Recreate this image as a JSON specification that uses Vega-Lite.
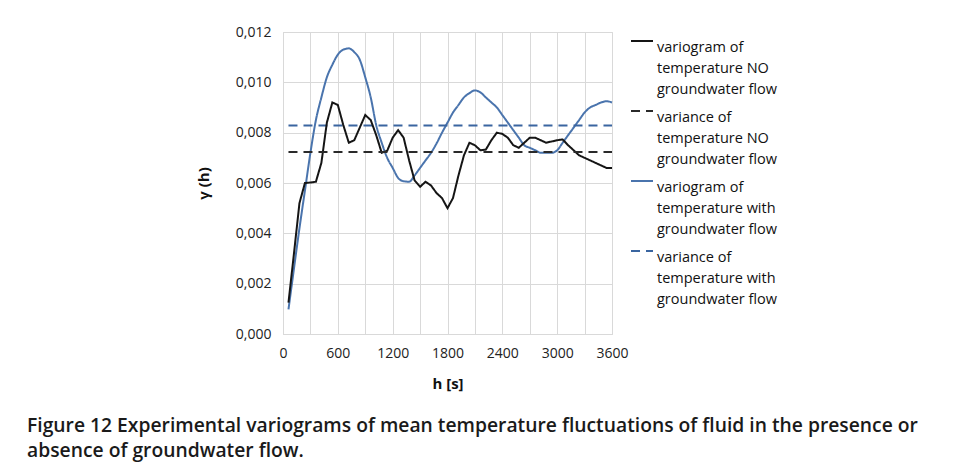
{
  "$schema": "https://vega.github.io/schema/vega-lite/v6.json",
  "width": 329,
  "height": 302,
  "autosize": {"type": "none"},
  "padding": {"left": 283, "top": 32, "right": 345, "bottom": 131},
  "background": "white",
  "title": {
    "text": ["Figure 12 Experimental variograms of mean temperature fluctuations of fluid in the presence or", "absence of groundwater flow."],
    "orient": "bottom", "anchor": "start", "frame": "group", "dx": -256, "offset": 26,
    "font": "Open Sans", "fontSize": 19.3, "fontWeight": 600, "lineHeight": 25, "color": "#1a1a1a"
  },
  "datasets": {
    "rows": [
      {"h": 60, "v": 0.00125, "s": "variogram of|temperature NO|groundwater flow"},
      {"h": 120, "v": 0.0032, "s": "variogram of|temperature NO|groundwater flow"},
      {"h": 180, "v": 0.0052, "s": "variogram of|temperature NO|groundwater flow"},
      {"h": 240, "v": 0.0060, "s": "variogram of|temperature NO|groundwater flow"},
      {"h": 300, "v": 0.00602, "s": "variogram of|temperature NO|groundwater flow"},
      {"h": 360, "v": 0.00605, "s": "variogram of|temperature NO|groundwater flow"},
      {"h": 420, "v": 0.0068, "s": "variogram of|temperature NO|groundwater flow"},
      {"h": 480, "v": 0.0084, "s": "variogram of|temperature NO|groundwater flow"},
      {"h": 540, "v": 0.0092, "s": "variogram of|temperature NO|groundwater flow"},
      {"h": 600, "v": 0.0091, "s": "variogram of|temperature NO|groundwater flow"},
      {"h": 660, "v": 0.0083, "s": "variogram of|temperature NO|groundwater flow"},
      {"h": 720, "v": 0.0076, "s": "variogram of|temperature NO|groundwater flow"},
      {"h": 780, "v": 0.0077, "s": "variogram of|temperature NO|groundwater flow"},
      {"h": 840, "v": 0.0082, "s": "variogram of|temperature NO|groundwater flow"},
      {"h": 900, "v": 0.0087, "s": "variogram of|temperature NO|groundwater flow"},
      {"h": 960, "v": 0.0085, "s": "variogram of|temperature NO|groundwater flow"},
      {"h": 1020, "v": 0.0079, "s": "variogram of|temperature NO|groundwater flow"},
      {"h": 1080, "v": 0.0072, "s": "variogram of|temperature NO|groundwater flow"},
      {"h": 1140, "v": 0.00728, "s": "variogram of|temperature NO|groundwater flow"},
      {"h": 1200, "v": 0.0078, "s": "variogram of|temperature NO|groundwater flow"},
      {"h": 1260, "v": 0.0081, "s": "variogram of|temperature NO|groundwater flow"},
      {"h": 1320, "v": 0.0078, "s": "variogram of|temperature NO|groundwater flow"},
      {"h": 1380, "v": 0.0069, "s": "variogram of|temperature NO|groundwater flow"},
      {"h": 1440, "v": 0.0061, "s": "variogram of|temperature NO|groundwater flow"},
      {"h": 1500, "v": 0.00585, "s": "variogram of|temperature NO|groundwater flow"},
      {"h": 1560, "v": 0.00605, "s": "variogram of|temperature NO|groundwater flow"},
      {"h": 1620, "v": 0.0059, "s": "variogram of|temperature NO|groundwater flow"},
      {"h": 1680, "v": 0.0056, "s": "variogram of|temperature NO|groundwater flow"},
      {"h": 1740, "v": 0.0054, "s": "variogram of|temperature NO|groundwater flow"},
      {"h": 1800, "v": 0.0050, "s": "variogram of|temperature NO|groundwater flow"},
      {"h": 1860, "v": 0.0054, "s": "variogram of|temperature NO|groundwater flow"},
      {"h": 1920, "v": 0.0063, "s": "variogram of|temperature NO|groundwater flow"},
      {"h": 1980, "v": 0.0071, "s": "variogram of|temperature NO|groundwater flow"},
      {"h": 2040, "v": 0.0076, "s": "variogram of|temperature NO|groundwater flow"},
      {"h": 2100, "v": 0.0075, "s": "variogram of|temperature NO|groundwater flow"},
      {"h": 2160, "v": 0.0073, "s": "variogram of|temperature NO|groundwater flow"},
      {"h": 2220, "v": 0.00733, "s": "variogram of|temperature NO|groundwater flow"},
      {"h": 2280, "v": 0.0077, "s": "variogram of|temperature NO|groundwater flow"},
      {"h": 2340, "v": 0.0080, "s": "variogram of|temperature NO|groundwater flow"},
      {"h": 2400, "v": 0.00795, "s": "variogram of|temperature NO|groundwater flow"},
      {"h": 2460, "v": 0.0078, "s": "variogram of|temperature NO|groundwater flow"},
      {"h": 2520, "v": 0.0075, "s": "variogram of|temperature NO|groundwater flow"},
      {"h": 2580, "v": 0.0074, "s": "variogram of|temperature NO|groundwater flow"},
      {"h": 2640, "v": 0.0076, "s": "variogram of|temperature NO|groundwater flow"},
      {"h": 2700, "v": 0.0078, "s": "variogram of|temperature NO|groundwater flow"},
      {"h": 2760, "v": 0.0078, "s": "variogram of|temperature NO|groundwater flow"},
      {"h": 2820, "v": 0.0077, "s": "variogram of|temperature NO|groundwater flow"},
      {"h": 2880, "v": 0.0076, "s": "variogram of|temperature NO|groundwater flow"},
      {"h": 2940, "v": 0.00765, "s": "variogram of|temperature NO|groundwater flow"},
      {"h": 3000, "v": 0.0077, "s": "variogram of|temperature NO|groundwater flow"},
      {"h": 3060, "v": 0.00773, "s": "variogram of|temperature NO|groundwater flow"},
      {"h": 3120, "v": 0.0075, "s": "variogram of|temperature NO|groundwater flow"},
      {"h": 3180, "v": 0.0073, "s": "variogram of|temperature NO|groundwater flow"},
      {"h": 3240, "v": 0.0071, "s": "variogram of|temperature NO|groundwater flow"},
      {"h": 3300, "v": 0.0070, "s": "variogram of|temperature NO|groundwater flow"},
      {"h": 3360, "v": 0.0069, "s": "variogram of|temperature NO|groundwater flow"},
      {"h": 3420, "v": 0.0068, "s": "variogram of|temperature NO|groundwater flow"},
      {"h": 3480, "v": 0.0067, "s": "variogram of|temperature NO|groundwater flow"},
      {"h": 3540, "v": 0.0066, "s": "variogram of|temperature NO|groundwater flow"},
      {"h": 3600, "v": 0.0066, "s": "variogram of|temperature NO|groundwater flow"},
      {"h": 60, "v": 0.00723, "s": "variance of|temperature NO|groundwater flow"},
      {"h": 3600, "v": 0.00723, "s": "variance of|temperature NO|groundwater flow"},
      {"h": 60, "v": 0.00098, "s": "variogram of|temperature with|groundwater flow"},
      {"h": 120, "v": 0.0026, "s": "variogram of|temperature with|groundwater flow"},
      {"h": 180, "v": 0.0042, "s": "variogram of|temperature with|groundwater flow"},
      {"h": 240, "v": 0.0057, "s": "variogram of|temperature with|groundwater flow"},
      {"h": 300, "v": 0.0072, "s": "variogram of|temperature with|groundwater flow"},
      {"h": 360, "v": 0.0085, "s": "variogram of|temperature with|groundwater flow"},
      {"h": 420, "v": 0.0094, "s": "variogram of|temperature with|groundwater flow"},
      {"h": 480, "v": 0.0102, "s": "variogram of|temperature with|groundwater flow"},
      {"h": 540, "v": 0.0107, "s": "variogram of|temperature with|groundwater flow"},
      {"h": 600, "v": 0.0111, "s": "variogram of|temperature with|groundwater flow"},
      {"h": 660, "v": 0.0113, "s": "variogram of|temperature with|groundwater flow"},
      {"h": 720, "v": 0.01135, "s": "variogram of|temperature with|groundwater flow"},
      {"h": 780, "v": 0.0112, "s": "variogram of|temperature with|groundwater flow"},
      {"h": 840, "v": 0.0109, "s": "variogram of|temperature with|groundwater flow"},
      {"h": 900, "v": 0.0102, "s": "variogram of|temperature with|groundwater flow"},
      {"h": 960, "v": 0.0094, "s": "variogram of|temperature with|groundwater flow"},
      {"h": 1020, "v": 0.0083, "s": "variogram of|temperature with|groundwater flow"},
      {"h": 1080, "v": 0.0076, "s": "variogram of|temperature with|groundwater flow"},
      {"h": 1140, "v": 0.0070, "s": "variogram of|temperature with|groundwater flow"},
      {"h": 1200, "v": 0.0066, "s": "variogram of|temperature with|groundwater flow"},
      {"h": 1260, "v": 0.0062, "s": "variogram of|temperature with|groundwater flow"},
      {"h": 1320, "v": 0.00607, "s": "variogram of|temperature with|groundwater flow"},
      {"h": 1380, "v": 0.00605, "s": "variogram of|temperature with|groundwater flow"},
      {"h": 1440, "v": 0.0063, "s": "variogram of|temperature with|groundwater flow"},
      {"h": 1500, "v": 0.0066, "s": "variogram of|temperature with|groundwater flow"},
      {"h": 1560, "v": 0.0069, "s": "variogram of|temperature with|groundwater flow"},
      {"h": 1620, "v": 0.0072, "s": "variogram of|temperature with|groundwater flow"},
      {"h": 1680, "v": 0.00757, "s": "variogram of|temperature with|groundwater flow"},
      {"h": 1740, "v": 0.0080, "s": "variogram of|temperature with|groundwater flow"},
      {"h": 1800, "v": 0.0084, "s": "variogram of|temperature with|groundwater flow"},
      {"h": 1860, "v": 0.0088, "s": "variogram of|temperature with|groundwater flow"},
      {"h": 1920, "v": 0.0091, "s": "variogram of|temperature with|groundwater flow"},
      {"h": 1980, "v": 0.0094, "s": "variogram of|temperature with|groundwater flow"},
      {"h": 2040, "v": 0.00957, "s": "variogram of|temperature with|groundwater flow"},
      {"h": 2100, "v": 0.00968, "s": "variogram of|temperature with|groundwater flow"},
      {"h": 2160, "v": 0.0096, "s": "variogram of|temperature with|groundwater flow"},
      {"h": 2220, "v": 0.0094, "s": "variogram of|temperature with|groundwater flow"},
      {"h": 2280, "v": 0.0092, "s": "variogram of|temperature with|groundwater flow"},
      {"h": 2340, "v": 0.0090, "s": "variogram of|temperature with|groundwater flow"},
      {"h": 2400, "v": 0.0087, "s": "variogram of|temperature with|groundwater flow"},
      {"h": 2460, "v": 0.0084, "s": "variogram of|temperature with|groundwater flow"},
      {"h": 2520, "v": 0.0081, "s": "variogram of|temperature with|groundwater flow"},
      {"h": 2580, "v": 0.0078, "s": "variogram of|temperature with|groundwater flow"},
      {"h": 2640, "v": 0.0075, "s": "variogram of|temperature with|groundwater flow"},
      {"h": 2700, "v": 0.0074, "s": "variogram of|temperature with|groundwater flow"},
      {"h": 2760, "v": 0.0073, "s": "variogram of|temperature with|groundwater flow"},
      {"h": 2820, "v": 0.0072, "s": "variogram of|temperature with|groundwater flow"},
      {"h": 2880, "v": 0.0072, "s": "variogram of|temperature with|groundwater flow"},
      {"h": 2940, "v": 0.0072, "s": "variogram of|temperature with|groundwater flow"},
      {"h": 3000, "v": 0.0073, "s": "variogram of|temperature with|groundwater flow"},
      {"h": 3060, "v": 0.0076, "s": "variogram of|temperature with|groundwater flow"},
      {"h": 3120, "v": 0.0079, "s": "variogram of|temperature with|groundwater flow"},
      {"h": 3180, "v": 0.0082, "s": "variogram of|temperature with|groundwater flow"},
      {"h": 3240, "v": 0.0085, "s": "variogram of|temperature with|groundwater flow"},
      {"h": 3300, "v": 0.0088, "s": "variogram of|temperature with|groundwater flow"},
      {"h": 3360, "v": 0.0090, "s": "variogram of|temperature with|groundwater flow"},
      {"h": 3420, "v": 0.0091, "s": "variogram of|temperature with|groundwater flow"},
      {"h": 3480, "v": 0.0092, "s": "variogram of|temperature with|groundwater flow"},
      {"h": 3540, "v": 0.00925, "s": "variogram of|temperature with|groundwater flow"},
      {"h": 3600, "v": 0.0092, "s": "variogram of|temperature with|groundwater flow"},
      {"h": 60, "v": 0.00828, "s": "variance of|temperature with|groundwater flow"},
      {"h": 3600, "v": 0.00828, "s": "variance of|temperature with|groundwater flow"}
    ]
  },
  "data": {"name": "rows"},
  "encoding": {
    "x": {
      "field": "h", "type": "quantitative",
      "scale": {"domain": [0, 3600], "nice": false},
      "axis": {
        "title": "h [s]",
        "values": [0, 300, 600, 900, 1200, 1500, 1800, 2100, 2400, 2700, 3000, 3300, 3600],
        "labelExpr": "datum.value % 600 == 0 ? format(datum.value, 'd') : ''",
        "titlePadding": 16
      }
    },
    "y": {
      "field": "v", "type": "quantitative",
      "scale": {"domain": [0, 0.012], "nice": false},
      "axis": {
        "title": "γ (h)",
        "values": [0, 0.002, 0.004, 0.006, 0.008, 0.010, 0.012],
        "labelExpr": "replace(format(datum.value, '.3f'), '.', ',')",
        "titlePadding": 24
      }
    },
    "color": {
      "field": "s", "type": "nominal",
      "scale": {
        "domain": ["variogram of|temperature NO|groundwater flow", "variance of|temperature NO|groundwater flow", "variogram of|temperature with|groundwater flow", "variance of|temperature with|groundwater flow"],
        "range": ["#151515", "#2a2a2a", "#4a74ad", "#3a65a0"]
      },
      "legend": {"title": null, "labelExpr": "split(datum.label, '|')"}
    },
    "strokeDash": {
      "field": "s", "type": "nominal",
      "scale": {
        "domain": ["variogram of|temperature NO|groundwater flow", "variance of|temperature NO|groundwater flow", "variogram of|temperature with|groundwater flow", "variance of|temperature with|groundwater flow"],
        "range": [[1, 0], [9, 6], [1, 0], [9, 6]]
      },
      "legend": {"title": null, "labelExpr": "split(datum.label, '|')"}
    }
  },
  "layer": [
    {
      "transform": [{"filter": "indexof(datum.s, 'temperature with') >= 0"}],
      "mark": {"type": "line", "strokeWidth": 2, "interpolate": "monotone"}
    },
    {
      "transform": [{"filter": "indexof(datum.s, 'temperature NO') >= 0"}],
      "mark": {"type": "line", "strokeWidth": 2, "interpolate": "linear"}
    }
  ],
  "config": {
    "view": {"stroke": "#d9d9d9", "strokeWidth": 1},
    "axis": {
      "grid": true, "gridColor": "#d9d9d9", "gridWidth": 1,
      "domainColor": "#d9d9d9", "ticks": false, "labelFlush": false,
      "labelFont": "Open Sans", "labelFontSize": 14, "labelColor": "#222222", "labelPadding": 12,
      "titleFont": "Open Sans", "titleFontSize": 15, "titleFontWeight": "bold", "titleColor": "#111111"
    },
    "legend": {
      "orient": "none", "legendX": 347, "legendY": -3,
      "labelFont": "Open Sans", "labelFontSize": 14.5, "labelColor": "#111111",
      "labelLimit": 0, "labelBaseline": "top", "labelOffset": 3,
      "symbolType": "stroke", "symbolSize": 484, "symbolStrokeWidth": 2,
      "rowPadding": 2
    },
    "style": {"guide-label": {"lineHeight": 21}}
  }
}
